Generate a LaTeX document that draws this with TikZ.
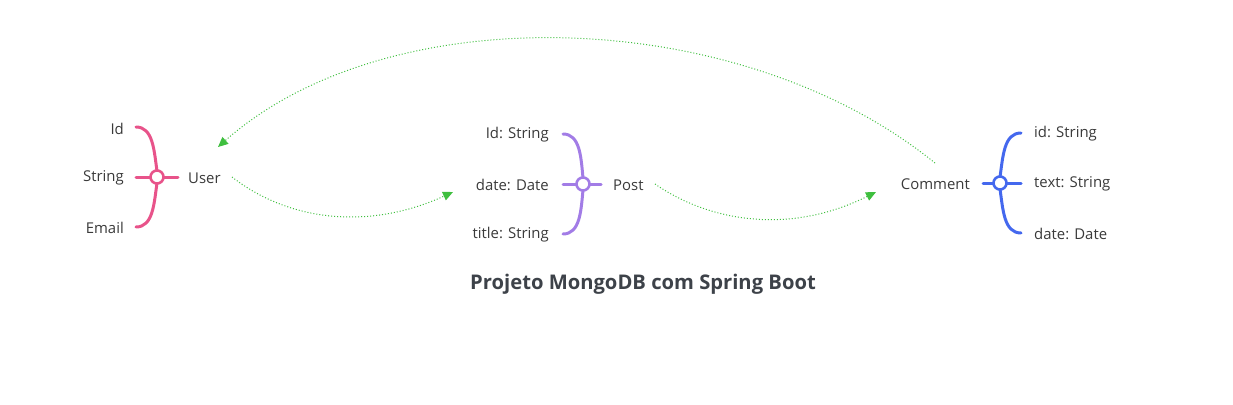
\documentclass[tikz,border=0pt]{standalone}
\usepackage{fontspec}
\setmainfont{Open Sans}
\usetikzlibrary{arrows.meta}
\definecolor{pinkc}{HTML}{E8538A}
\definecolor{purpc}{HTML}{A27CE6}
\definecolor{bluec}{HTML}{4468EE}
\definecolor{greenc}{HTML}{3FBF3F}
\definecolor{txt}{HTML}{3A3A3A}
\definecolor{titlec}{HTML}{3D4249}
\tikzset{
  lbl/.style={font=\fontsize{14.9}{16}\selectfont, text=txt, inner sep=0pt},
  lblR/.style={lbl, anchor=east},
  lblL/.style={lbl, anchor=west},
  brc/.style={line width=3pt, line cap=round},
  hub/.style={circle, draw, line width=2.6pt, fill=white, minimum size=13pt, inner sep=0pt},
  link/.style={greenc, line width=1pt, dotted, -{Triangle[length=10pt,width=9pt]}},
}
\begin{document}
\begin{tikzpicture}[x=1pt,y=-1pt]
\useasboundingbox (0,0) rectangle (1233,404);
% ---------- User ----------
\node[lblR] (uid) at (124,129) {Id};
\node[lblR] (ustr) at (124,178) {String};
\node[lblR] (uem) at (124,228) {Email};
\node[lblL] (user) at (188,178) {User};
\begin{scope}[pinkc]
\draw[brc] (136,127) .. controls (153,127) and (154,150) .. (157,171);
\draw[brc] (136,227) .. controls (153,227) and (154,204) .. (157,183);
\draw[brc] (136,177) -- (178,177);
\node[hub] (uhub) at (157,177) {};
\end{scope}
% ---------- Post ----------
\node[lblR] (pid) at (549,135) {Id: String};
\node[lblR] (pdate) at (549,185) {date: Date};
\node[lblR] (ptitle) at (549,235) {title: String};
\node[lblL] (post) at (613,185) {Post};
\begin{scope}[purpc]
\draw[brc] (563,134) .. controls (580,134) and (581,157) .. (583,178);
\draw[brc] (563,234) .. controls (580,234) and (581,211) .. (583,190);
\draw[brc] (563,184) -- (601,184);
\node[hub] (phub) at (583,184) {};
\end{scope}
% ---------- Comment ----------
\node[lblR] (comment) at (970,184) {Comment};
\node[lblL] (cid) at (1034,134) {id: String};
\node[lblL] (ctext) at (1034,184) {text: String};
\node[lblL] (cdate) at (1034,234) {date: Date};
\begin{scope}[bluec]
\draw[brc] (1021,133) .. controls (1004,133) and (1003,156) .. (1000,177);
\draw[brc] (1021,233) .. controls (1004,233) and (1003,210) .. (1000,189);
\draw[brc] (983,183) -- (1021,183);
\node[hub] (chub) at (1000,183) {};
\end{scope}
% ---------- links ----------
\coordinate (ua) at (232,177);
\coordinate (pin) at (453,192);
\coordinate (pa) at (655,184);
\coordinate (cin) at (876,192);
\coordinate (ca) at (935,163);
\coordinate (uin) at (218,147);
\draw[link] (ua) .. controls (290,222) and (370,230) .. (pin);
\draw[link] (pa) .. controls (710,222) and (790,235) .. (cin);
\draw[link] (ca) .. controls (740,5) and (390,-5) .. (uin);
% ---------- title ----------
\node[font=\fontsize{20.2}{23}\selectfont\bfseries, text=titlec, inner sep=0pt] (title) at (643,284) {Projeto MongoDB com Spring Boot};
\end{tikzpicture}
\end{document}
